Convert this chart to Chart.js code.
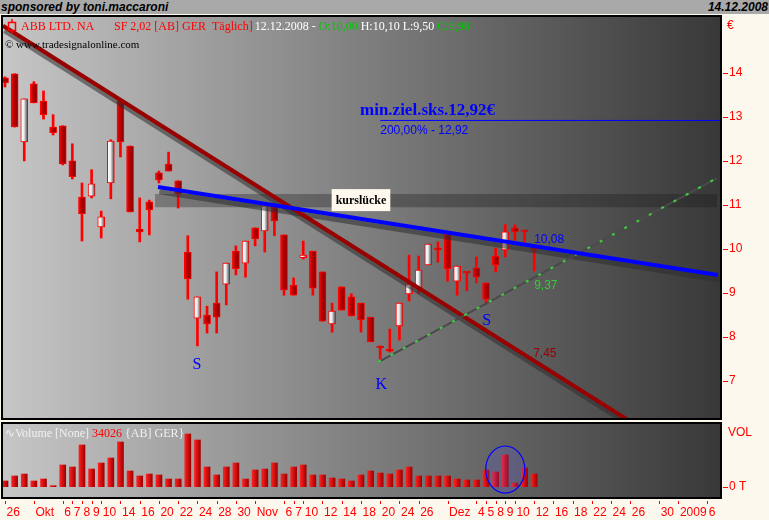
<!DOCTYPE html>
<html lang="de">
  <head>
    <meta charset="UTF-8" />
    <meta name="viewport" content="width=device-width, initial-scale=1.0" />
    <title>ABB LTD. NA (Tradesignal)</title>
    <script src="https://cdn.jsdelivr.net/npm/chart.js"></script>
    <style>
      * {
        margin: 0;
        padding: 0;
        box-sizing: border-box;
      }

      body {
        width: 769px;
        height: 520px;
        background: #fdf8ee;
        position: relative;
        overflow: hidden;
      }

      .topbar {
        position: absolute;
        left: 0;
        top: 0;
        width: 769px;
        height: 14px;
        background: #a9a9a9;
        font: italic bold 12px "Liberation Sans", Arial, sans-serif;
        color: #000;
        z-index: 2;
      }

      .topbar span {
        position: absolute;
        top: 0;
        line-height: 14px;
      }

      #priceBox {
        position: absolute;
        left: 0;
        top: 0;
        width: 769px;
        height: 428px;
      }

      #volBox {
        position: absolute;
        left: 0;
        top: 414px;
        width: 769px;
        height: 106px;
      }
    </style>
  </head>
  <body>
    <div class="topbar">
      <span style="left: 1px">sponsored by toni.maccaroni</span>
      <span style="right: 1px">14.12.2008</span>
    </div>
    <div id="priceBox"><canvas id="price" width="769" height="428"></canvas></div>
    <div id="volBox"><canvas id="vol" width="769" height="106"></canvas></div>

    <script>
      // daily candles 26.09.2008 - 12.12.2008, x = trading day number
      const opens = [
        13.89, 13.98, 12.43, 13.75, 13.36, 12.77, 12.8, 12.0, 11.18, 11.2,
        10.5, 11.5, 13.36, 12.34, 10.45, 11.07, 11.73, 11.93, 11.55, 9.93,
        8.43, 8.5, 8.77, 9.2, 9.95, 9.68, 10.48, 10.41, 10.95, 10.32,
        9.18, 9.8, 9.95, 9.48, 8.3, 9.14, 8.91, 8.77, 8.45, 7.75,
        7.68, 8.25, 8.98, 9.11, 9.64, 9.98, 10.34, 9.27, 9.45, 9.57,
        9.23, 9.84, 9.98, 10.48, 10.39, 10.0,
      ];
      const highs = [
        13.91, 13.98, 13.41, 13.8, 13.59, 13.05, 12.8, 12.39, 11.5, 11.8,
        10.86, 12.48, 13.36, 12.34, 11.16, 11.11, 11.77, 12.2, 11.55, 10.3,
        8.91, 8.7, 9.48, 9.68, 10.07, 10.18, 10.48, 10.98, 10.95, 10.32,
        9.34, 10.18, 9.95, 9.48, 8.77, 9.14, 8.98, 8.77, 8.45, 7.8,
        8.18, 8.77, 9.86, 9.84, 10.11, 10.16, 10.39, 9.61, 9.45, 9.82,
        9.23, 10.02, 10.55, 10.55, 10.39, 10.1,
      ];
      const lows = [
        13.68, 12.77, 12.0, 13.32, 12.95, 12.59, 11.91, 11.59, 10.18, 11.16,
        10.25, 11.14, 12.09, 10.84, 10.16, 10.32, 11.5, 11.77, 10.93, 8.86,
        7.8, 8.09, 8.09, 8.73, 9.41, 9.36, 10.07, 9.93, 10.3, 8.95,
        8.95, 9.77, 8.95, 8.36, 8.11, 8.61, 8.48, 8.11, 7.89, 7.5,
        7.66, 7.93, 8.82, 9.0, 9.64, 9.7, 9.27, 8.95, 9.05, 9.23,
        8.75, 9.48, 9.82, 10.2, 10.14, 9.5,
      ];
      const closes = [
        13.77, 12.77, 13.41, 13.32, 13.05, 12.64, 11.93, 11.64, 10.8, 11.48,
        10.73, 12.45, 12.43, 10.84, 10.39, 10.89, 11.57, 11.77, 11.25, 9.32,
        8.91, 8.3, 8.45, 9.68, 9.55, 10.18, 10.23, 10.98, 10.64, 9.07,
        8.95, 9.86, 9.11, 8.36, 8.59, 8.61, 8.48, 8.39, 7.89, 7.75,
        7.68, 8.77, 9.2, 9.52, 10.11, 9.98, 9.55, 9.61, 9.45, 9.36,
        8.86, 9.64, 10.39, 10.39, 10.39, 9.98,
      ];
      const volumes = [
        15300, 28700, 34000, 15300, 20600, 2700, 58200, 52800, 111800, 47400,
        63500, 76900, 119800, 42100, 28700, 34000, 31400, 20600, 20600, 141200,
        125200, 52800, 31400, 52800, 63500, 20600, 44800, 47400, 63500, 34000,
        52800, 58200, 31400, 31400, 23300, 20600, 15300, 31400, 42100, 36700,
        34000, 44800, 52800, 28700, 28700, 28700, 28700, 20600, 18000, 18000,
        44800, 39400, 85000, 9900, 50100, 34026,
      ];

      // date axis (trading day number -> label), runs on into January 2009
      const tickIdx = [
        0, 3, 6, 7, 8, 9, 10, 12, 14, 16, 18, 20, 22, 24, 26, 29, 30, 31, 33,
        35, 37, 39, 41, 43, 46, 49, 50, 51, 52, 53, 55, 57, 59, 61, 63, 65,
        68, 70, 73,
      ];
      const tickText = [
        "26", "Okt", "6", "7", "8", "9", "10", "14", "16", "20", "22", "24",
        "28", "30", "Nov", "6", "7", "10", "12", "14", "18", "20", "24", "26",
        "Dez", "4", "5", "8", "9", "10", "12", "16", "18", "22", "24", "26",
        "30", "2009", "6",
      ];
      const priceTicks = [7, 8, 9, 10, 11, 12, 13, 14];

      // drawn studies: trend lines, target and the price gap
      const downTrend = [
        { x: -0.21, y: 15.07 },
        { x: 65.0, y: 6.08 },
      ];
      const resistance = [
        { x: 15.9, y: 11.41 },
        { x: 74.1, y: 9.41 },
      ];
      const upTrend = [
        { x: 38.8, y: 7.43 },
        { x: 74.0, y: 11.61 },
      ];
      const target = [
        { x: 39.0, y: 12.92 },
        { x: 74.4, y: 12.92 },
      ];
      const gap = { from: 15.6, to: 74.0, top: 11.25, bottom: 10.95 };

      const notes = [
        { x: 36.9, y: 13.05, text: "min.ziel.sks.12,92€", color: "#0000ff", font: 'bold 17px "Liberation Serif"' },
        { x: 39.0, y: 12.61, text: "200,00% - 12,92", color: "#0000ff", font: '12px "Liberation Sans"' },
        { x: 55.0, y: 10.14, text: "10,08", color: "#0000ff", font: '12px "Liberation Sans"' },
        { x: 55.0, y: 9.09, text: "9,37", color: "#33cc33", font: '12px "Liberation Sans"' },
        { x: 54.9, y: 7.55, text: "7,45", color: "#990000", font: '12px "Liberation Sans"' },
        { x: 19.5, y: 7.27, text: "S", color: "#0000ff", font: '16px "Liberation Serif"' },
        { x: 38.5, y: 6.82, text: "K", color: "#0000ff", font: '16px "Liberation Serif"' },
        { x: 49.6, y: 8.27, text: "S", color: "#0000ff", font: '16px "Liberation Serif"' },
      ];
      const gapLabel = { x: 37.0, y: 11.11, text: "kurslücke" };
      const volCircle = { x: 52.0, y: 46000, dx: 2.03, dy: 63000 };

      const xMin = -0.21;
      const xMax = 74.32;
      const shadowDrop = 0.11;
      const idx = opens.map((_, i) => i);

      function drop(points) {
        return points.map((p) => ({ x: p.x + 0.15, y: p.y - shadowDrop }));
      }

      function seg(points, color, width, order, dash) {
        return {
          type: "line",
          data: points,
          borderColor: color,
          borderWidth: width,
          borderDash: dash || [],
          pointRadius: 0,
          fill: false,
          tension: 0,
          order: order,
        };
      }

      function panelFill(chart) {
        const { ctx, chartArea: a } = chart;
        const g = ctx.createLinearGradient(a.left, 0, a.right, 0);
        g.addColorStop(0, "#c6c6c6");
        g.addColorStop(1, "#383838");
        ctx.save();
        ctx.fillStyle = g;
        ctx.fillRect(a.left, a.top, a.right - a.left, a.bottom - a.top);
        ctx.restore();
      }

      function panelFrame(chart) {
        const { ctx, chartArea: a } = chart;
        ctx.save();
        ctx.strokeStyle = "#000";
        ctx.lineWidth = 2;
        ctx.strokeRect(a.left - 1, a.top - 1, a.right - a.left + 2, a.bottom - a.top + 2);
        ctx.restore();
      }

      // short red marks beside the axis labels
      function yMarks(chart, values) {
        const { ctx, chartArea: a, scales } = chart;
        ctx.save();
        ctx.strokeStyle = "#ff0000";
        ctx.lineWidth = 1;
        ctx.beginPath();
        values.forEach((v) => {
          const py = Math.round(scales.y.getPixelForValue(v)) + 0.5;
          ctx.moveTo(a.right + 3, py);
          ctx.lineTo(a.right + 8, py);
        });
        ctx.stroke();
        ctx.restore();
      }

      function xMarks(chart, values) {
        const { ctx, chartArea: a, scales } = chart;
        ctx.save();
        ctx.strokeStyle = "#ff0000";
        ctx.lineWidth = 1;
        ctx.beginPath();
        values.forEach((v) => {
          const px = Math.round(scales.x.getPixelForValue(v)) + 0.5;
          ctx.moveTo(px, a.bottom + 4);
          ctx.lineTo(px, a.bottom + 7);
        });
        ctx.stroke();
        ctx.restore();
      }

      // scale pixel of a bar, or null while the scales are not laid out yet
      function barPixel(c) {
        const sx = c.chart.scales && c.chart.scales.x;
        if (!sx) return null;
        const px = sx.getPixelForValue(c.dataIndex);
        return Number.isFinite(px) ? px : null;
      }

      function bodyFill(c) {
        const i = c.dataIndex;
        const up = closes[i] > opens[i];
        const px = c.type === "data" ? barPixel(c) : null;
        if (px === null) return up ? "#e0e0e0" : "#b00000";
        const g = c.chart.ctx.createLinearGradient(px - 3.5, 0, px + 3.5, 0);
        if (up) {
          g.addColorStop(0, "#ffffff");
          g.addColorStop(0.45, "#eeeeee");
          g.addColorStop(1, "#404040");
        } else {
          g.addColorStop(0, "#ff1010");
          g.addColorStop(0.35, "#c00000");
          g.addColorStop(1, "#800000");
        }
        return g;
      }

      function volFill(c) {
        const px = c.type === "data" ? barPixel(c) : null;
        if (px === null) return "#e00000";
        const g = c.chart.ctx.createLinearGradient(px - 3, 0, px + 3, 0);
        g.addColorStop(0, "#ff2020");
        g.addColorStop(1, "#a00000");
        return g;
      }

      // draws text pieces one after the other, returns the end x
      function runText(ctx, parts, x, y) {
        parts.forEach(([t, col]) => {
          ctx.fillStyle = col;
          ctx.fillText(t, x, y);
          x += ctx.measureText(t).width;
        });
        return x;
      }

      const pricePlugin = {
        id: "pricePanel",
        beforeDraw: panelFill,
        afterDatasetsDraw(chart) {
          const { ctx, scales } = chart;
          ctx.save();
          ctx.textBaseline = "alphabetic";
          ctx.textAlign = "left";
          notes.forEach((n) => {
            ctx.font = n.font;
            ctx.fillStyle = n.color;
            ctx.fillText(n.text, scales.x.getPixelForValue(n.x), scales.y.getPixelForValue(n.y));
          });

          // label box of the price gap
          const bx = scales.x.getPixelForValue(gapLabel.x);
          const by = scales.y.getPixelForValue(gapLabel.y);
          ctx.font = 'bold 12px "Liberation Serif"';
          const w = ctx.measureText(gapLabel.text).width + 8;
          ctx.fillStyle = "#fff8ee";
          ctx.fillRect(bx - w / 2, by - 11, w, 22);
          ctx.fillStyle = "#000";
          ctx.textAlign = "center";
          ctx.textBaseline = "middle";
          ctx.fillText(gapLabel.text, bx, by + 1);
          ctx.restore();
        },
        afterDraw(chart) {
          panelFrame(chart);
          yMarks(chart, priceTicks);
          const ctx = chart.ctx;
          ctx.save();
          // little candle icon
          ctx.strokeStyle = "#ff0000";
          ctx.lineWidth = 1.5;
          ctx.strokeRect(8.5, 22.5, 7, 8);
          ctx.beginPath();
          ctx.moveTo(12, 19);
          ctx.lineTo(12, 22);
          ctx.moveTo(12, 31);
          ctx.lineTo(12, 34);
          ctx.stroke();

          ctx.font = '12px "Liberation Serif"';
          ctx.textBaseline = "alphabetic";
          ctx.fillStyle = "#ff0000";
          ctx.fillText("ABB LTD. NA", 21, 30);
          const x = runText(ctx, [["SF 2,02 [AB] GER  Täglich]", "#ff0000"]], 114, 30);
          runText(
            ctx,
            [
              ["12.12.2008 - ", "#ffffff"],
              ["O:10,00 ", "#00c800"],
              ["H:10,10 L:9,50 ", "#ffffff"],
              ["C:9,98", "#00c800"],
            ],
            x + 2,
            30
          );
          ctx.font = '11px "Liberation Serif"';
          ctx.fillStyle = "#000";
          ctx.fillText("© www.tradesignalonline.com", 5, 48);

          ctx.font = '12px "Liberation Sans"';
          ctx.fillStyle = "#ff0000";
          ctx.fillText("€", 727, 29);
          ctx.restore();
        },
      };

      const volPlugin = {
        id: "volPanel",
        beforeDraw: panelFill,
        afterDatasetsDraw(chart) {
          const { ctx, scales, chartArea: a } = chart;
          const cx = scales.x.getPixelForValue(volCircle.x);
          const cy = scales.y.getPixelForValue(volCircle.y);
          const rx = Math.abs(scales.x.getPixelForValue(volCircle.x + volCircle.dx) - cx);
          const ry = Math.abs(scales.y.getPixelForValue(volCircle.y + volCircle.dy) - cy);
          ctx.save();
          ctx.beginPath();
          ctx.ellipse(cx, cy, rx, ry, 0, 0, Math.PI * 2);
          ctx.fillStyle = "rgba(90, 90, 255, 0.18)";
          ctx.fill();
          ctx.strokeStyle = "#0000ff";
          ctx.lineWidth = 1.2;
          ctx.stroke();

          ctx.font = '12px "Liberation Serif"';
          ctx.textBaseline = "alphabetic";
          runText(
            ctx,
            [
              ["∿Volume [None] ", "#f0f0f0"],
              ["34026 ", "#ff0000"],
              ["{AB] GER}", "#f0f0f0"],
            ],
            5,
            a.top + 13
          );
          ctx.restore();
        },
        afterDraw(chart) {
          panelFrame(chart);
          yMarks(chart, [0]);
          xMarks(chart, tickIdx);
          const ctx = chart.ctx;
          ctx.save();
          ctx.font = '12px "Liberation Sans"';
          ctx.fillStyle = "#ff0000";
          ctx.textBaseline = "alphabetic";
          ctx.fillText("VOL", 728, chart.chartArea.top + 12);
          ctx.restore();
        },
      };

      const xScale = {
        type: "linear",
        min: xMin,
        max: xMax,
        offset: false,
      };

      const yTicks = {
        color: "#ff0000",
        padding: 2,
        font: { family: "Liberation Sans", size: 12 },
      };

      const priceChart = new Chart(document.getElementById("price"), {
        type: "bar",
        data: {
          datasets: [
            {
              type: "line",
              label: "kurslücke",
              data: [
                { x: gap.from, y: gap.top },
                { x: gap.to, y: gap.top },
              ],
              fill: { value: gap.bottom },
              backgroundColor: "rgba(25, 25, 25, 0.33)",
              borderWidth: 0,
              pointRadius: 0,
              order: 20,
            },
            {
              label: "wick",
              data: idx.map((i) => ({ x: i, y: [lows[i], highs[i]] })),
              backgroundColor: "#ff0000",
              barThickness: 2,
              grouped: false,
              order: 15,
            },
            {
              label: "body",
              data: idx.map((i) => ({ x: i, y: [opens[i], closes[i]] })),
              backgroundColor: bodyFill,
              borderColor: "#ff0000",
              borderWidth: 1,
              borderSkipped: false,
              barThickness: 7,
              minBarLength: 2,
              grouped: false,
              order: 14,
            },
            seg(drop(downTrend), "rgba(45, 45, 45, 0.55)", 5, 8),
            seg(drop(resistance), "rgba(45, 45, 45, 0.55)", 5, 7),
            seg(downTrend, "#990000", 4, 5),
            seg(upTrend, "#4a4a4a", 2, 4),
            seg(upTrend, "#40d040", 2, 3, [3, 11]),
            seg(resistance, "#0000ff", 4, 2),
            seg(target, "#0000ff", 1, 1),
          ],
        },
        options: {
          responsive: false,
          animation: false,
          layout: { padding: { left: 3, top: 17, right: 0, bottom: 10 } },
          plugins: { legend: { display: false }, tooltip: { enabled: false } },
          scales: {
            x: { ...xScale, display: false, grid: { display: false } },
            y: {
              position: "right",
              min: 6.16,
              max: 15.27,
              afterBuildTicks: (s) => {
                s.ticks = priceTicks.map((v) => ({ value: v }));
              },
              afterFit: (s) => {
                s.width = 49;
              },
              border: { display: false },
              grid: { display: false, tickLength: 7 },
              ticks: { ...yTicks, callback: (v) => String(v) },
            },
          },
        },
        plugins: [pricePlugin],
      });

      const volChart = new Chart(document.getElementById("vol"), {
        type: "bar",
        data: {
          datasets: [
            {
              label: "Volume",
              data: idx.map((i) => ({ x: i, y: volumes[i] })),
              backgroundColor: volFill,
              barThickness: 6,
              grouped: false,
            },
          ],
        },
        options: {
          responsive: false,
          animation: false,
          layout: { padding: { left: 3, top: 10, right: 0, bottom: 0 } },
          plugins: { legend: { display: false }, tooltip: { enabled: false } },
          scales: {
            x: {
              ...xScale,
              position: "bottom",
              afterBuildTicks: (s) => {
                s.ticks = tickIdx.map((v) => ({ value: v }));
              },
              afterFit: (s) => {
                s.height = 23;
              },
              border: { display: false },
              grid: { display: false, tickLength: 5 },
              ticks: {
                color: "#ff0000",
                autoSkip: false,
                maxRotation: 0,
                minRotation: 0,
                align: "start",
                labelOffset: 1.5,
                padding: 3,
                font: { family: "Liberation Sans", size: 12 },
                callback: (v, i) => tickText[i],
              },
            },
            y: {
              position: "right",
              min: -27600,
              max: 168000,
              afterBuildTicks: (s) => {
                s.ticks = [{ value: 0 }];
              },
              afterFit: (s) => {
                s.width = 49;
              },
              border: { display: false },
              grid: { display: false, tickLength: 7 },
              ticks: { ...yTicks, callback: () => "0 T" },
            },
          },
        },
        plugins: [volPlugin],
      });

      // second pass so the bar gradients see the laid-out scales
      priceChart.update();
      volChart.update();
    </script>
  </body>
</html>
